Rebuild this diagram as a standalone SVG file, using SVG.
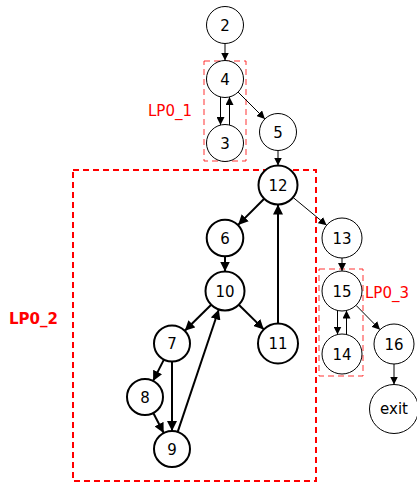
<svg xmlns="http://www.w3.org/2000/svg" width="417" height="483" viewBox="0 0 417 483">
<defs>
<marker id="a" viewBox="0 0 10 10" refX="10" refY="5" markerWidth="8" markerHeight="8" markerUnits="userSpaceOnUse" orient="auto"><path d="M0,0L10,5L0,10z" fill="#000"/></marker>
<marker id="b" viewBox="0 0 10 10" refX="10" refY="5" markerWidth="10" markerHeight="10" markerUnits="userSpaceOnUse" orient="auto"><path d="M0,0L10,5L0,10z" fill="#000"/></marker>
</defs>
<style>
.n circle{fill:#fff;stroke:#000;stroke-width:1}
.t circle{stroke-width:2}
.n text{font-family:"DejaVu Sans",sans-serif;font-size:15px;text-anchor:middle;fill:#000}
.e line{stroke:#000;stroke-width:1;marker-end:url(#a)}
.e line.k{stroke-width:2;marker-end:url(#b)}
.lp{fill:none;stroke:#f00;stroke-dasharray:6,4}
.lt{font-family:"DejaVu Sans",sans-serif;font-size:15px;fill:#f00}
</style>
<rect class="lp" x="204" y="61" width="42" height="100" stroke-width="1" stroke-opacity="0.8"/>
<rect class="lp" x="73" y="170" width="243" height="311" stroke-width="2" stroke-dasharray="8,5"/>
<rect class="lp" x="319" y="269" width="44" height="107" stroke-width="1" stroke-opacity="0.8"/>
<text class="lt" x="148" y="116">LP0_1</text>
<text class="lt" x="9" y="324" font-weight="bold">LP0_2</text>
<text class="lt" x="365" y="298">LP0_3</text>
<g id="edges" class="e">
<line x1="225" y1="43.5" x2="225" y2="60.5"/>
<line x1="220.5" y1="97" x2="220.5" y2="125"/>
<line x1="229.5" y1="125" x2="229.5" y2="97"/>
<line x1="238.1" y1="92.1" x2="264.9" y2="118.9"/>
<line x1="278" y1="150.5" x2="278" y2="165.5"/>
<line class="k" x1="264.2" y1="198.8" x2="238.1" y2="224.9"/>
<line x1="293" y1="197.4" x2="326.6" y2="225.2"/>
<line class="k" x1="225" y1="256.5" x2="225" y2="271.5"/>
<line class="k" x1="211.2" y1="304.7" x2="184.8" y2="330.8"/>
<line class="k" x1="238.8" y1="304.7" x2="263.8" y2="329.4"/>
<line class="k" x1="278" y1="323.5" x2="278" y2="204.5"/>
<line class="k" x1="163.9" y1="359.6" x2="153.1" y2="380.9"/>
<line class="k" x1="172" y1="361.5" x2="172" y2="431"/>
<line class="k" x1="153.3" y1="413" x2="163.7" y2="433"/>
<line class="k" x1="177.7" y1="431.9" x2="218.8" y2="309.5"/>
<line x1="342" y1="258" x2="342" y2="271"/>
<line x1="337.5" y1="310.5" x2="337.5" y2="334.5"/>
<line x1="346.5" y1="334.5" x2="346.5" y2="310.5"/>
<line x1="356" y1="305.3" x2="380" y2="329.7"/>
<line x1="394" y1="364" x2="394" y2="384.5"/>
</g>
<g id="n2" class="n"><circle cx="225" cy="25" r="18.5"/><text x="225" y="30.5">2</text></g>
<g id="n4" class="n"><circle cx="225" cy="79" r="18.5"/><text x="225" y="84.5">4</text></g>
<g id="n3" class="n"><circle cx="225" cy="143" r="18.5"/><text x="225" y="148.5">3</text></g>
<g id="n5" class="n"><circle cx="278" cy="132" r="18.5"/><text x="278" y="137.5">5</text></g>
<g id="n12" class="n t"><circle cx="278" cy="185" r="19.5"/><text x="278" y="190.5">12</text></g>
<g id="n6" class="n t"><circle cx="225" cy="238" r="18.3"/><text x="225" y="243.5">6</text></g>
<g id="n10" class="n t"><circle cx="225" cy="291" r="19.5"/><text x="225" y="296.5">10</text></g>
<g id="n7" class="n t"><circle cx="172" cy="343.5" r="18"/><text x="172" y="349">7</text></g>
<g id="n11" class="n t"><circle cx="278" cy="343.5" r="20"/><text x="278" y="349">11</text></g>
<g id="n8" class="n t"><circle cx="145" cy="397" r="18"/><text x="145" y="402.5">8</text></g>
<g id="n9" class="n t"><circle cx="172" cy="449" r="18"/><text x="172" y="454.5">9</text></g>
<g id="n13" class="n"><circle cx="342" cy="238" r="20"/><text x="342" y="243.5">13</text></g>
<g id="n15" class="n"><circle cx="342" cy="291" r="20"/><text x="342" y="296.5">15</text></g>
<g id="n14" class="n"><circle cx="342" cy="354" r="20"/><text x="342" y="359.5">14</text></g>
<g id="n16" class="n"><circle cx="394" cy="344" r="20"/><text x="394" y="349.5">16</text></g>
<g id="nexit" class="n"><circle cx="394" cy="409" r="24.5"/><text x="394" y="413.5">exit</text></g>
</svg>
